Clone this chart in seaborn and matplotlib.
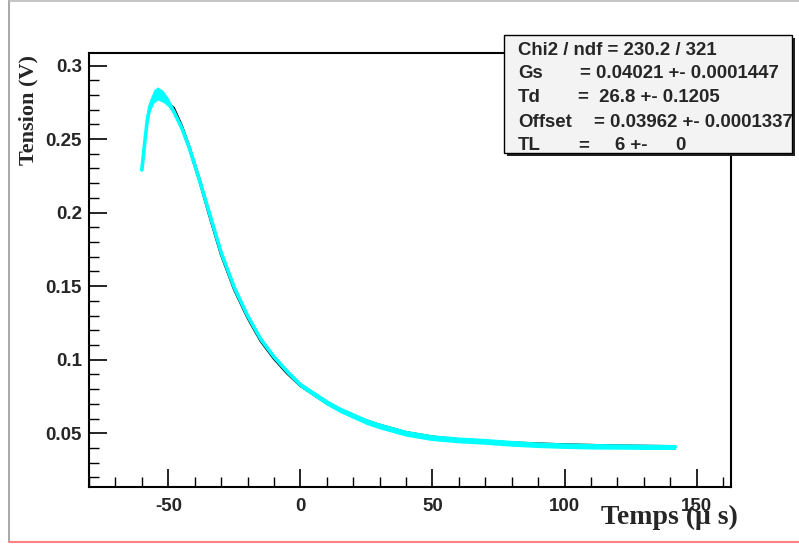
import numpy as np
import pandas as pd
import matplotlib
matplotlib.use("Agg")
import matplotlib.pyplot as plt
import seaborn as sns
from matplotlib.patches import Rectangle
from matplotlib.lines import Line2D
from matplotlib.ticker import MultipleLocator

# Measured pulse (time in microseconds, voltage in volts)
signal_t = [-60, -59, -58, -57, -55.5, -54, -52, -50, -48, -45, -42, -38, -34, -30,
            -25, -20, -15, -10, -5, 0, 5, 10, 15, 20, 25, 30, 40, 50, 60, 70, 80,
            90, 100, 110, 120, 130, 142]
signal_v = [0.229, 0.246, 0.262, 0.272, 0.279, 0.281, 0.279, 0.275, 0.269, 0.258,
            0.244, 0.221, 0.197, 0.173, 0.149, 0.130, 0.114, 0.102, 0.092, 0.083,
            0.077, 0.071, 0.066, 0.062, 0.058, 0.055, 0.0500, 0.0470, 0.0455,
            0.0445, 0.0432, 0.0422, 0.0416, 0.0412, 0.0410, 0.0408, 0.0407]
# half-width of the noise band around the measured pulse
signal_noise = [0.0005, 0.0015, 0.003, 0.004, 0.0045, 0.0045, 0.004, 0.003, 0.002,
                0.002, 0.0015, 0.0015, 0.0015, 0.0013, 0.0013, 0.0013, 0.0014,
                0.0015, 0.0016, 0.0017, 0.0018, 0.0019, 0.0019, 0.0020, 0.0020,
                0.0020, 0.0020, 0.0020, 0.0020, 0.0020, 0.0020, 0.0019, 0.0019,
                0.0019, 0.0018, 0.0018, 0.0017]

# Fitted shaper response
fit_t = [-50, -48, -45, -42, -38, -34, -30, -25, -20, -15, -10, -5, 0, 10, 20, 30,
         40, 50, 60, 70, 80, 90, 100, 120, 140]
fit_v = [0.274, 0.271, 0.259, 0.244, 0.221, 0.196, 0.172, 0.148, 0.129, 0.113,
         0.101, 0.091, 0.0825, 0.0705, 0.0615, 0.0555, 0.0505, 0.0475, 0.0457,
         0.0445, 0.0435, 0.0428, 0.0422, 0.0414, 0.0410]

x_ticks = [-50, 0, 50, 100, 150]
y_ticks = [0.05, 0.1, 0.15, 0.2, 0.25, 0.3]
y_tick_labels = ["0.05", "0.1", "0.15", "0.2", "0.25", "0.3"]

stats_title = "Chi2 / ndf = 230.2 / 321"
stats_names = ["Gs", "Td", "Offset", "TL"]
stats_values = ["= 0.04021 +- 0.0001447", "=  26.8 +- 0.1205",
                "= 0.03962 +- 0.0001337", "="]

W, H = 799, 546
sns.set_theme(style="white")
plt.rcParams["font.family"] = ["Liberation Sans", "DejaVu Sans"]

fig = plt.figure(figsize=(W / 100, H / 100), dpi=100)
fig.patch.set_facecolor("white")


def fx(px):
    return px / W


def fy(py):
    return 1 - py / H


ax_l, ax_r, ax_t, ax_b = 89, 731, 53, 487
ax = fig.add_axes([fx(ax_l), fy(ax_b), fx(ax_r - ax_l), (ax_b - ax_t) / H])
ax.set_facecolor("white")

df_fit = pd.DataFrame({"t": fit_t, "v": fit_v})
df_sig = pd.DataFrame({"t": signal_t, "v": signal_v, "n": signal_noise})

sns.lineplot(data=df_fit, x="t", y="v", ax=ax, color="black", lw=2.2,
             estimator=None, sort=False, zorder=2)
ax.fill_between(df_sig["t"], df_sig["v"] - df_sig["n"], df_sig["v"] + df_sig["n"],
                color="#00ffff", lw=0, zorder=3)
sns.lineplot(data=df_sig, x="t", y="v", ax=ax, color="#00ffff", lw=2.6,
             estimator=None, sort=False, zorder=4)

ax.set_xlim(-80, 163)
ax.set_ylim(0.0135, 0.3085)
ax.set_xticks(x_ticks)
ax.set_xticklabels([str(v) for v in x_ticks])
ax.set_yticks(y_ticks)
ax.set_yticklabels(y_tick_labels)
ax.xaxis.set_minor_locator(MultipleLocator(10))
ax.yaxis.set_minor_locator(MultipleLocator(0.01))
ax.tick_params(axis="both", which="major", direction="in", length=13, width=1.2,
               color="black", labelsize=13.5, bottom=True, left=True,
               top=False, right=False)
ax.tick_params(axis="both", which="minor", direction="in", length=7, width=1.0,
               color="black", bottom=True, left=True, top=False, right=False)
ax.tick_params(axis="x", which="major", pad=8)
ax.tick_params(axis="y", which="major", pad=5)
for lab in ax.get_xticklabels() + ax.get_yticklabels():
    lab.set_fontweight("bold")
for sp in ax.spines.values():
    sp.set_visible(True)
    sp.set_color("black")
    sp.set_linewidth(1.5)
ax.set_xlabel("")
ax.set_ylabel("")

# Axis titles
fig.text(fx(28), fy(55), "Tension (V)", rotation=90, ha="center", va="top",
         family=["Liberation Serif", "DejaVu Serif"], fontweight="bold", fontsize=16)
fig.text(fx(738), fy(524), "Temps (\u03bc s)", ha="right", va="baseline",
         family=["Liberation Serif", "DejaVu Serif"], fontweight="bold", fontsize=20)

# Statistics box with drop shadow
bx0, by0, bx1, by1 = 504, 35, 792, 153
fig.add_artist(Rectangle((fx(bx0 + 3), fy(by1 + 3)), fx(bx1 - bx0), (by1 - by0) / H,
                         transform=fig.transFigure, facecolor="#222222",
                         edgecolor="none", zorder=10))
fig.add_artist(Rectangle((fx(bx0), fy(by1)), fx(bx1 - bx0), (by1 - by0) / H,
                         transform=fig.transFigure, facecolor="#f3f3f3",
                         edgecolor="black", lw=1.0, zorder=11))
base = [55, 78.5, 102.5, 126.5, 150]
fig.text(fx(518), fy(base[0]), stats_title, ha="left", va="baseline",
         fontsize=13.4, fontweight="bold", zorder=12)
value_x = [580, 578, 594, 578]
for i, (name, val) in enumerate(zip(stats_names, stats_values)):
    fig.text(fx(518), fy(base[i + 1]), name, ha="left", va="baseline",
             fontsize=13.4, fontweight="bold", zorder=12)
    fig.text(fx(value_x[i]), fy(base[i + 1]), val, ha="left", va="baseline",
             fontsize=13.4, fontweight="bold", zorder=12)
fig.text(fx(615), fy(base[4]), "6 +-", ha="left", va="baseline",
         fontsize=13.4, fontweight="bold", zorder=12)
fig.text(fx(675), fy(base[4]), "0", ha="left", va="baseline",
         fontsize=13.4, fontweight="bold", zorder=12)

# Canvas border lines
fig.add_artist(Line2D([fx(9), fx(9)], [fy(0), fy(541)], transform=fig.transFigure,
                      color="#999999", lw=1.2))
fig.add_artist(Line2D([fx(9), fx(799)], [fy(0.8), fy(0.8)], transform=fig.transFigure,
                      color="#bbbbbb", lw=1.2))
fig.add_artist(Line2D([fx(9), fx(799)], [fy(541.5), fy(541.5)], transform=fig.transFigure,
                      color="#ff8080", lw=1.5))

fig.savefig("out.png", dpi=100, facecolor="white")
